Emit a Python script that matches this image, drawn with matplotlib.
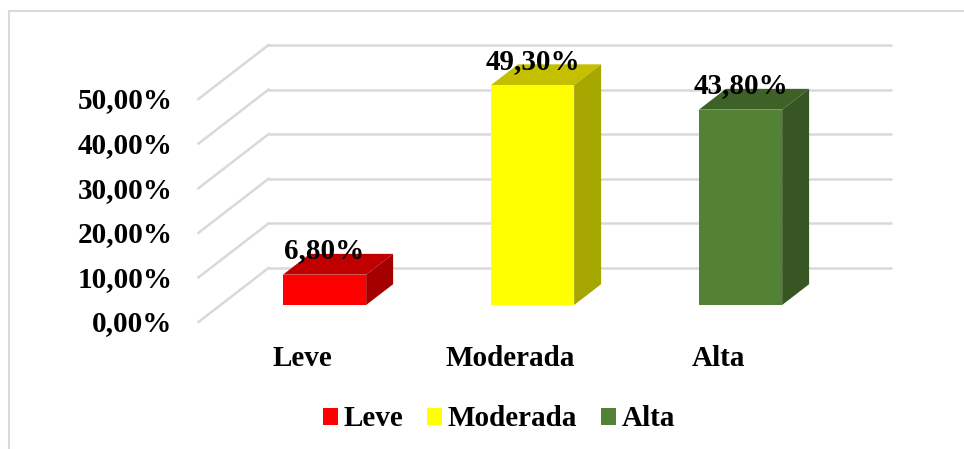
import numpy as np
import matplotlib
matplotlib.use("Agg")
import matplotlib.pyplot as plt
from matplotlib.patches import Polygon, Rectangle

# dados
categorias = ["Leve", "Moderada", "Alta"]
valores = [6.8, 49.3, 43.8]
rotulos = ["6,80%", "49,30%", "43,80%"]
ticks = [0, 10, 20, 30, 40, 50]
tick_labels = ["0,00%", "10,00%", "20,00%", "30,00%", "40,00%", "50,00%"]
cor_frente = ["#FF0000", "#FFFF00", "#548235"]
cor_topo = ["#C00000", "#C4C000", "#3E6128"]
cor_lado = ["#A50000", "#A6A600", "#375623"]

plt.rcParams['font.family'] = ['Liberation Serif', 'DejaVu Serif']
plt.rcParams['font.weight'] = 'bold'

fig = plt.figure(figsize=(9.64, 4.49), dpi=100)
ax = fig.add_axes([0, 0, 1, 1])
ax.set_xlim(-372.5 / 208, 591.5 / 208)
ax.set_ylim(-181 / 4.46, 268 / 4.46)
ax.axis('off')

# profundidade do efeito 3D (unidades dos dados)
DX = 70 / 208
DY = 54 / 4.46
d_frente, d_tras = 0.685, 0.30
larg = 0.4
grid_cor = "#D9D9D9"
fs = 21

# paredes / grades
for t, lab in zip(ticks, tick_labels):
    ax.plot([-0.5, 2.5], [t, t], color=grid_cor, lw=1.8, zorder=1, solid_capstyle='butt')
    ax.plot([-0.5, -0.5 - DX], [t, t - DY], color=grid_cor, lw=1.8, zorder=1)
    ax.text(-0.5 - DX - 26 / 208, t - DY - 2 / 4.46, lab, ha='right', va='center',
            fontsize=fs, fontweight='bold')

# barras 3D
for i, (c, v) in enumerate(zip(categorias, valores)):
    xf = i - d_frente * DX
    yf = -d_frente * DY
    xb = i - d_tras * DX
    yb = -d_tras * DY
    ax.bar(xf, v, width=larg, bottom=yf, color=cor_frente[i], label=c, zorder=4)
    topo = [(xf - larg / 2, yf + v), (xf + larg / 2, yf + v),
            (xb + larg / 2, yb + v), (xb - larg / 2, yb + v)]
    lado = [(xf + larg / 2, yf), (xf + larg / 2, yf + v),
            (xb + larg / 2, yb + v), (xb + larg / 2, yb)]
    ax.add_patch(Polygon(topo, closed=True, facecolor=cor_topo[i], edgecolor='none', zorder=3))
    ax.add_patch(Polygon(lado, closed=True, facecolor=cor_lado[i], edgecolor='none', zorder=3))
    ax.text(xf, yf + v + 24 / 4.46, rotulos[i], ha='center', va='center',
            fontsize=fs, fontweight='bold', zorder=5)
    ax.text(i - DX, -DY - 37 / 4.46, c, ha='center', va='center',
            fontsize=fs, fontweight='bold')

fig.legend(loc='center', bbox_to_anchor=(499 / 964, 1 - 419 / 449), ncol=3,
           frameon=False, fontsize=fs, handlelength=0.52, handleheight=0.52,
           handletextpad=0.2, columnspacing=0.8)

# moldura
fig.patches.append(Rectangle((8.5 / 964, -0.02), 1.05, 1.02 - 10.5 / 449,
                             transform=fig.transFigure, facecolor='none',
                             edgecolor=grid_cor, lw=1.5))

fig.savefig("out.png", dpi=100)
